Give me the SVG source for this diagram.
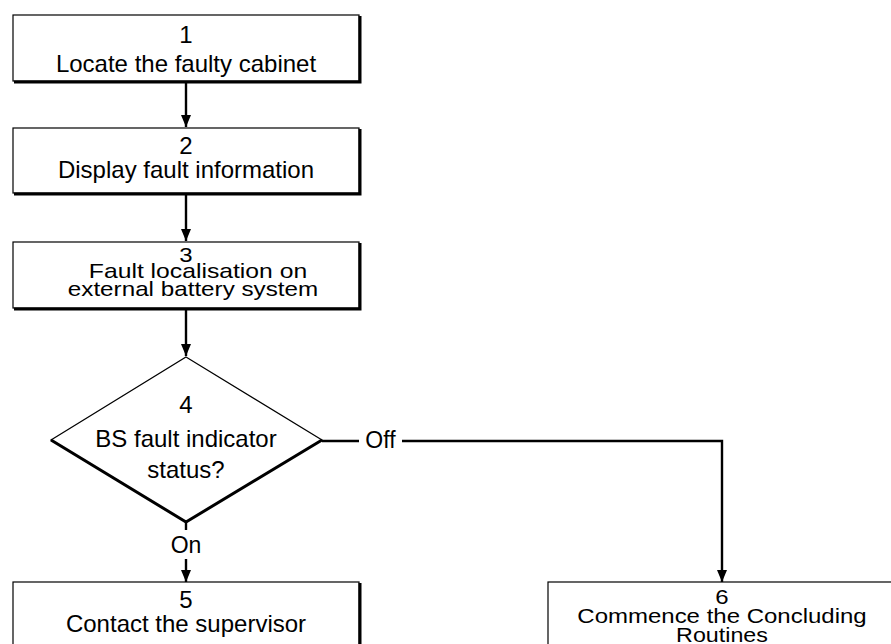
<svg xmlns="http://www.w3.org/2000/svg" width="891" height="644" viewBox="0 0 891 644">
  <style>
    .box { fill: #fff; stroke: #000; stroke-width: 1.2; }
    .shadow { fill: none; stroke: #000; stroke-width: 3; }
    .t { font-family: "Liberation Sans", Arial, sans-serif; font-size: 24px; fill: #000; text-anchor: middle; }
    .lbl { font-family: "Liberation Sans", Arial, sans-serif; font-size: 23px; fill: #000; text-anchor: middle; }
    .wire { fill: none; stroke: #000; stroke-width: 2.4; }
  </style>
  <defs>
    <marker id="ahead" viewBox="0 0 12 10" refX="12" refY="5" markerWidth="12" markerHeight="10" markerUnits="userSpaceOnUse" orient="auto">
      <path d="M0,0 L12,5 L0,10 Z" fill="#000"/>
    </marker>
  </defs>

  <rect width="891" height="644" fill="#fff"/>

  <g id="connectors">
    <line class="wire" x1="186" y1="82" x2="186" y2="127" marker-end="url(#ahead)"/>
    <line class="wire" x1="186" y1="195" x2="186" y2="241" marker-end="url(#ahead)"/>
    <line class="wire" x1="186" y1="310" x2="186" y2="356" marker-end="url(#ahead)"/>
    <line class="wire" x1="186" y1="522" x2="186" y2="530"/>
    <line class="wire" x1="186" y1="559" x2="186" y2="582" marker-end="url(#ahead)"/>
    <line class="wire" x1="322" y1="441" x2="359" y2="441"/>
    <polyline class="wire" points="402,441 722,441 722,582" marker-end="url(#ahead)"/>
    <text class="lbl" x="186" y="553">On</text>
    <text class="lbl" x="380.5" y="448">Off</text>
  </g>

  <g id="node1">
    <rect class="box" x="13" y="15" width="346" height="66"/>
    <polyline class="shadow" points="360,16 360,82 14,82"/>
    <text class="t" x="186" y="43">1</text>
    <text class="t" x="186" y="72">Locate the faulty cabinet</text>
  </g>

  <g id="node2">
    <rect class="box" x="13" y="128" width="346" height="65"/>
    <polyline class="shadow" points="360,129 360,194 14,194"/>
    <text class="t" x="186" y="154">2</text>
    <text class="t" x="186" y="178">Display fault information</text>
  </g>

  <!-- lines in this box are set in a vertically squeezed face -->
  <g id="node3">
    <rect class="box" x="13" y="242" width="346" height="66"/>
    <polyline class="shadow" points="360,243 360,309 14,309"/>
    <text class="t" transform="translate(186,262) scale(1,0.82)">3</text>
    <text class="t" transform="translate(198,278) scale(1.03,0.82)">Fault localisation on</text>
    <text class="t" transform="translate(193,296) scale(1.01,0.82)">external battery system</text>
  </g>

  <g id="node4">
    <polygon points="186,357 322,440 186,522 51,440" fill="#fff" stroke="#000" stroke-width="1.2"/>
    <polyline points="51,440 186,522 322,440" fill="none" stroke="#000" stroke-width="3"/>
    <text class="t" x="186" y="413">4</text>
    <text class="t" x="186" y="447">BS fault indicator</text>
    <text class="t" x="186" y="478">status?</text>
  </g>

  <g id="node5">
    <rect class="box" x="13" y="582" width="346" height="80"/>
    <line class="shadow" x1="360" y1="583" x2="360" y2="662"/>
    <text class="t" x="186" y="608">5</text>
    <text class="t" x="186" y="632">Contact the supervisor</text>
  </g>

  <g id="node6">
    <rect class="box" x="548" y="582" width="350" height="80"/>
    <text class="t" transform="translate(722,604) scale(1,0.82)">6</text>
    <text class="t" transform="translate(722,623) scale(1,0.82)">Commence the Concluding</text>
    <text class="t" transform="translate(722,642) scale(0.97,0.82)">Routines</text>
  </g>
</svg>
